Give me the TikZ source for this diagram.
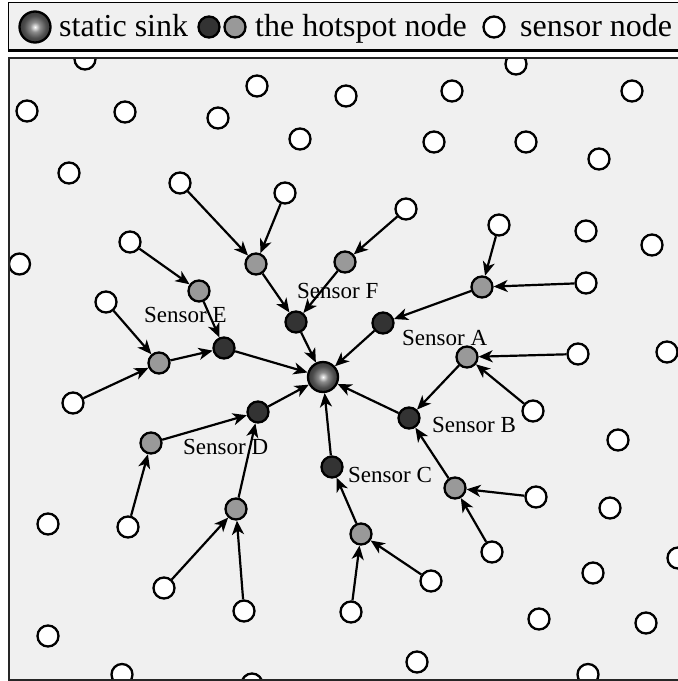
\documentclass[tikz,border=0pt]{standalone}
\usepackage{fontspec}
\setmainfont{Liberation Serif}
\usetikzlibrary{arrows.meta}

\definecolor{panel}{HTML}{F0F0F0}
\definecolor{hsgray}{HTML}{999999}
\definecolor{hsdark}{HTML}{333333}
\pgfdeclareradialshading{sinkshade}{\pgfpoint{0bp}{0bp}}{%
  color(0bp)=(white); color(2bp)=(white!88!black); color(8bp)=(black!45); color(18bp)=(black!70); color(30bp)=(black!83); color(50bp)=(black!90)}

\begin{document}
\begin{tikzpicture}[x=1pt,y=-1pt,
  sensor/.style={circle, draw=black, line width=2.3pt, fill=white, minimum size=21pt, inner sep=0pt},
  hotgray/.style={sensor, fill=hsgray},
  hotdark/.style={sensor, fill=hsdark},
  sink/.style={circle, draw=black, line width=2.3pt, minimum size=30pt, inner sep=0pt, shading=sinkshade},
  link/.style={line width=2.2pt, -{Stealth[length=14pt,width=12pt,inset=4pt]}},
  lbl/.style={font=\fontsize{23}{23}\selectfont, inner sep=0pt, anchor=base west},
  legtext/.style={font=\fontsize{32}{32}\selectfont, inner sep=0pt, anchor=base west},
]
\useasboundingbox (0,0) rectangle (678,681);

% legend bar
\fill[panel] (8,2) rectangle (700,50);
\draw[line width=1pt] (700,2) -- (8,2) -- (8,50);
\draw[line width=3pt] (8,50) -- (700,50);
\node[sink, minimum size=31pt] (lsink) at (35,27) {};
\node[legtext] (lt1) at (59,36) {static sink};
\node[hotdark] (ldark) at (209,27) {};
\node[hotgray] (lgray) at (235,27) {};
\node[legtext] (lt2) at (255,36) {the hotspot node};
\node[sensor] (lwhite) at (494,27) {};
\node[legtext] (lt3) at (520,36) {sensor node};

% field panel
\fill[panel] (9,58) rectangle (700,680);

\begin{scope}
\clip (9,58) rectangle (700,680);
% plain sensor nodes
\node[sensor] (w1) at (85,59) {};
\node[sensor] (w2) at (257,86) {};
\node[sensor] (w3) at (27,111) {};
\node[sensor] (w4) at (125,112) {};
\node[sensor] (w5) at (218,118) {};
\node[sensor] (w6) at (346,96) {};
\node[sensor] (w7) at (300,139) {};
\node[sensor] (w8) at (69,173) {};
\node[sensor] (w9) at (180,183) {};
\node[sensor] (w10) at (285,193) {};
\node[sensor] (w11) at (130,242) {};
\node[sensor] (w12) at (452,91) {};
\node[sensor] (w13) at (516,64) {};
\node[sensor] (w14) at (632,91) {};
\node[sensor] (w15) at (434,142) {};
\node[sensor] (w16) at (526,142) {};
\node[sensor] (w17) at (599,159) {};
\node[sensor] (w18) at (406,209) {};
\node[sensor] (w19) at (499,225) {};
\node[sensor] (w20) at (586,231) {};
\node[sensor] (w21) at (652,245) {};
\node[sensor] (w22) at (19.5,264) {};
\node[sensor] (w24) at (106,302) {};
\node[sensor] (w25) at (73,403) {};
\node[sensor] (w26) at (586,283) {};
\node[sensor] (w27) at (578,354) {};
\node[sensor] (w28) at (667,352) {};
\node[sensor] (w29) at (533,411) {};
\node[sensor] (w30) at (618,440) {};
\node[sensor] (w31) at (48,524) {};
\node[sensor] (w32) at (128,527) {};
\node[sensor] (w33) at (164,588) {};
\node[sensor] (w34) at (244,611) {};
\node[sensor] (w35) at (48,636) {};
\node[sensor] (w36) at (122,674.5) {};
\node[sensor] (w37) at (252,684) {};
\node[sensor] (w38) at (536,497) {};
\node[sensor] (w39) at (610,508) {};
\node[sensor] (w40) at (492,552) {};
\node[sensor] (w41) at (431,581) {};
\node[sensor] (w42) at (351,612) {};
\node[sensor] (w43) at (593,573) {};
\node[sensor] (w44) at (678,558) {};
\node[sensor] (w45) at (539,619) {};
\node[sensor] (w46) at (646,623) {};
\node[sensor] (w47) at (417,662) {};
\node[sensor] (w48) at (588,674.5) {};

% hotspot nodes, outer ring
\node[hotgray] (g1) at (256,264) {};
\node[hotgray] (g2) at (345,262) {};
\node[hotgray] (g3) at (199,291) {};
\node[hotgray] (g4) at (482,287) {};
\node[hotgray] (g5) at (159,363) {};
\node[hotgray] (g6) at (467,357) {};
\node[hotgray] (g7) at (151,443) {};
\node[hotgray] (g8) at (236,509) {};
\node[hotgray] (g9) at (455,488) {};
\node[hotgray] (g10) at (361,534) {};

% hotspot nodes next to the sink
\node[hotdark] (dF) at (296,322) {};
\node[hotdark] (dA) at (383,323) {};
\node[hotdark] (dE) at (224,348) {};
\node[hotdark] (dB) at (409,418) {};
\node[hotdark] (dD) at (258,412) {};
\node[hotdark] (dC) at (332,467) {};

\node[sink] (sink) at (323,377) {};

% labels
\node[lbl] (lF) at (297,298) {Sensor F};
\node[lbl] (lE) at (144,322) {Sensor E};
\node[lbl] (lA) at (402,345) {Sensor A};
\node[lbl] (lB) at (432,432) {Sensor B};
\node[lbl] (lD) at (183,454) {Sensor D};
\node[lbl] (lC) at (348,482) {Sensor C};

% routing tree
\draw[link] (w9) -- (g1);
\draw[link] (w10) -- (g1);
\draw[link] (w18) -- (g2);
\draw[link] (g1) -- (dF);
\draw[link] (g2) -- (dF);
\draw[link] (dF) -- (sink);
\draw[link] (w11) -- (g3);
\draw[link] (g3) -- (dE);
\draw[link] (w24) -- (g5);
\draw[link] (w25) -- (g5);
\draw[link] (g5) -- (dE);
\draw[link] (dE) -- (sink);
\draw[link] (w19) -- (g4);
\draw[link] (w26) -- (g4);
\draw[link] (g4) -- (dA);
\draw[link] (dA) -- (sink);
\draw[link] (w27) -- (g6);
\draw[link] (w29) -- (g6);
\draw[link] (g6) -- (dB);
\draw[link] (w38) -- (g9);
\draw[link] (w40) -- (g9);
\draw[link] (g9) -- (dB);
\draw[link] (dB) -- (sink);
\draw[link] (w32) -- (g7);
\draw[link] (g7) -- (dD);
\draw[link] (w33) -- (g8);
\draw[link] (w34) -- (g8);
\draw[link] (g8) -- (dD);
\draw[link] (dD) -- (sink);
\draw[link] (w41) -- (g10);
\draw[link] (w42) -- (g10);
\draw[link] (g10) -- (dC);
\draw[link] (dC) -- (sink);
\end{scope}

% field frame
\draw[line width=1.3pt, draw=black!85] (700,58) -- (9,58) -- (9,680) -- (700,680);
\end{tikzpicture}
\end{document}
